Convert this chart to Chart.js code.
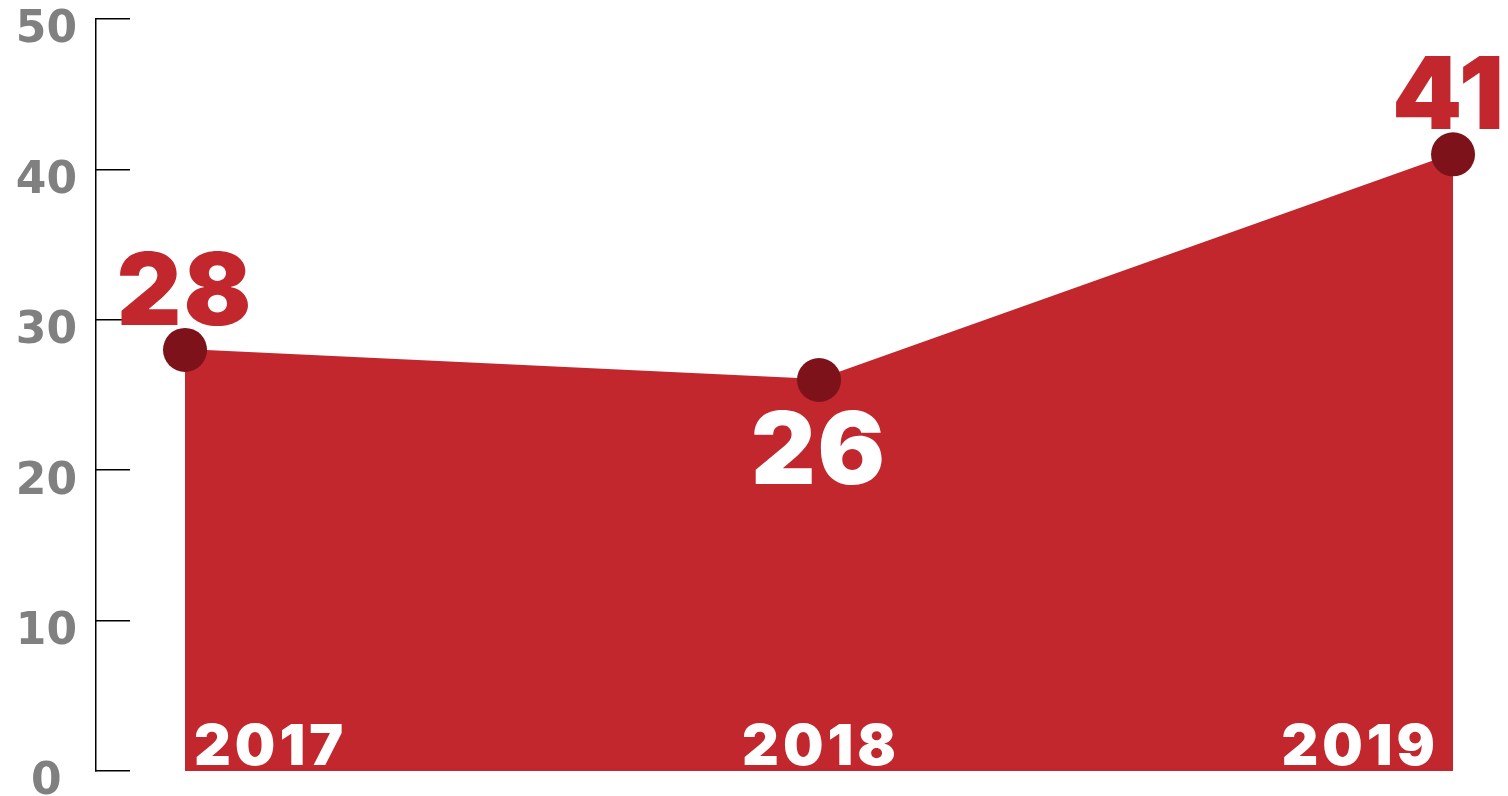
<!DOCTYPE html>
<html>
<head>
<meta charset="utf-8">
<script src="https://cdn.jsdelivr.net/npm/chart.js@4/dist/chart.umd.min.js"></script>
<style>
  html, body { margin: 0; padding: 0; background: #fff; }
  #wrap { width: 1508px; height: 796px; position: relative; }
</style>
</head>
<body>
<div id="wrap"><canvas id="myChart"></canvas></div>
<script>
const years = ["2017", "2018", "2019"];
const values = [28, 26, 41];
const yTicks = [0, 10, 20, 30, 40, 50];

const red = "#c1272d";
const darkRed = "#7d121b";
const heavyFont = "'Inter', 'Lato', 'Roboto', sans-serif";

// value labels above/below points + year labels inside the area
const labelPlugin = {
  id: "labels",
  afterDatasetsDraw(chart) {
    const ctx = chart.ctx;
    const meta = chart.getDatasetMeta(0);
    const area = chart.chartArea;
    ctx.save();
    meta.data.forEach((pt, i) => {
      // value
      ctx.font = "900 100px " + heavyFont;
      ctx.letterSpacing = "2px";
      ctx.textBaseline = "alphabetic";
      ctx.textAlign = "center";
      const txt = String(values[i]);
      const w = ctx.measureText(txt).width;
      let x = Math.min(pt.x, chart.width - 2 - w / 2);
      if (i === 1) {
        ctx.fillStyle = "#fff";
        ctx.fillText(txt, x, pt.y + 104);
      } else {
        ctx.fillStyle = red;
        ctx.fillText(txt, x, pt.y - 25);
      }
      // year
      ctx.font = "900 57px " + heavyFont;
      ctx.letterSpacing = "4px";
      ctx.fillStyle = "#fff";
      if (i === 0) {
        ctx.textAlign = "left";
        ctx.fillText(years[i], pt.x + 9, area.bottom - 6);
      } else if (i === years.length - 1) {
        ctx.textAlign = "right";
        ctx.fillText(years[i], pt.x - 14, area.bottom - 6);
      } else {
        ctx.textAlign = "center";
        ctx.fillText(years[i], pt.x + 2, area.bottom - 6);
      }
    });
    ctx.restore();
  }
};

const ctx = document.getElementById("myChart").getContext("2d");
const myChart = new Chart(ctx, {
  type: "line",
  data: {
    datasets: [
      {
        data: values.map((v, i) => ({ x: i, y: v })),
        fill: "origin",
        backgroundColor: red,
        borderColor: red,
        borderWidth: 2,
        tension: 0,
        pointRadius: 22,
        pointHoverRadius: 22,
        pointBackgroundColor: darkRed,
        pointBorderWidth: 0,
        clip: false,
      },
    ],
  },
  options: {
    responsive: true,
    maintainAspectRatio: false,
    animation: false,
    layout: { autoPadding: false, padding: { top: 19, bottom: 25, left: 0, right: 0 } },
    plugins: {
      legend: { display: false },
      tooltip: { enabled: false },
      title: { display: false },
    },
    scales: {
      x: {
        type: "linear",
        display: false,
        min: -0.1404,
        max: 2.0867,
      },
      y: {
        min: 0,
        max: 50,
        afterFit: (scale) => {
          scale.width = 96;
          scale.paddingTop = 0;
          scale.paddingBottom = 0;
        },
        afterBuildTicks: (scale) => { scale.ticks = yTicks.map((v) => ({ value: v })); },
        border: { display: true, color: "#000", width: 1.5 },
        grid: {
          drawOnChartArea: false,
          drawTicks: true,
          tickLength: -34,
          color: "#000",
          lineWidth: 1.5,
        },
        ticks: {
          padding: 53,
          crossAlign: "center",
          labelOffset: 12,
          color: "#808080",
          font: { family: "'DejaVu Sans'", weight: "bold", size: 44, lineHeight: 0.8 },
        },
      },
    },
  },
  plugins: [labelPlugin],
});
</script>
</body>
</html>
